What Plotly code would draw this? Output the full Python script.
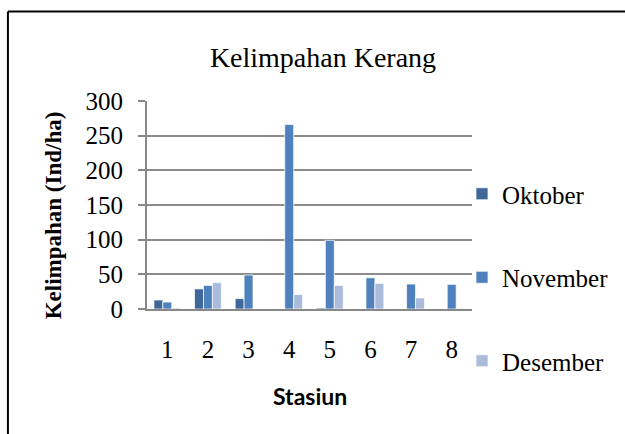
import plotly.graph_objects as go

stations = ["1", "2", "3", "4", "5", "6", "7", "8"]
oktober = [13, 29, 15, 0, 1.5, 0, 0, 0]
november = [10, 34, 49, 266, 99, 45, 36, 35.5]
desember = [1.5, 38, 0, 21, 34, 37, 16, 1]

W, H = 625, 434
L, R, T, B = 147, 152, 101, 125
PW, PH = W - L - R, H - T - B

def px(x):
    return (x - L) / PW

def py(y):
    return 1 - (y - T) / PH

serif = "Liberation Serif, Times New Roman, serif"

fig = go.Figure()
series = [("Oktober", oktober, "#3F6899"), ("November", november, "#4F81BD"), ("Desember", desember, "#AABBDB")]
for i, (name, vals, col) in enumerate(series):
    fig.add_trace(go.Bar(
        x=stations, y=vals, name=name, legendgroup=str(i),
        marker=dict(color=col, line=dict(color="rgba(255,255,255,0.7)", width=1)),
    ))

fig.update_layout(
    width=W, height=H,
    margin=dict(l=L, r=R, t=T, b=B),
    paper_bgcolor="white", plot_bgcolor="white",
    barmode="group", bargap=0.34, bargroupgap=0,
    title=dict(text="Kelimpahan Kerang", xref="container", x=323 / W, xanchor="center",
               yref="container", y=1 - 57 / H, yanchor="middle",
               font=dict(family=serif, size=28, color="black")),
    font=dict(family=serif, size=25, color="black"),
    legend=dict(x=px(462), y=py(171), xanchor="left", yanchor="top",
                tracegroupgap=48, maxheight=400, font=dict(family=serif, size=25, color="black"),
                bgcolor="rgba(0,0,0,0)"),
    showlegend=True,
)
fig.update_xaxes(type="category", showline=True, linecolor="#888888", linewidth=2,
                 ticks="", showgrid=False, ticklabelstandoff=17,
                 tickfont=dict(family=serif, size=25, color="black"))
fig.update_yaxes(range=[0, 300], dtick=50, showgrid=True, gridcolor="#8c8c8c", gridwidth=1.5,
                 showline=True, linecolor="#888888", linewidth=2, ticks="outside", ticklen=7,
                 tickcolor="#888888", tickwidth=1.5, ticklabelstandoff=10, zeroline=False,
                 tickfont=dict(family=serif, size=25, color="black"))

fig.add_annotation(text="<b>Kelimpahan (Ind/ha)</b>", xref="paper", yref="paper",
                   x=px(53), y=py(215), xanchor="center", yanchor="middle", textangle=-90,
                   showarrow=False, font=dict(family=serif, size=23, color="black"))
fig.add_annotation(text="<b>Stasiun</b>", xref="paper", yref="paper",
                   x=px(311), y=py(396), xanchor="center", yanchor="middle",
                   showarrow=False, font=dict(family="Lato, Liberation Sans, sans-serif", size=23, color="black"))

fig.add_shape(type="line", xref="paper", yref="paper", x0=px(7.5), x1=px(640), y0=py(11.5), y1=py(11.5),
              line=dict(color="black", width=2))
fig.add_shape(type="line", xref="paper", yref="paper", x0=px(7.5), x1=px(7.5), y0=py(11.5), y1=py(450),
              line=dict(color="black", width=2))

fig.write_html("out.html", config={"displayModeBar": False},
               post_script="document.body.style.margin='0';")
